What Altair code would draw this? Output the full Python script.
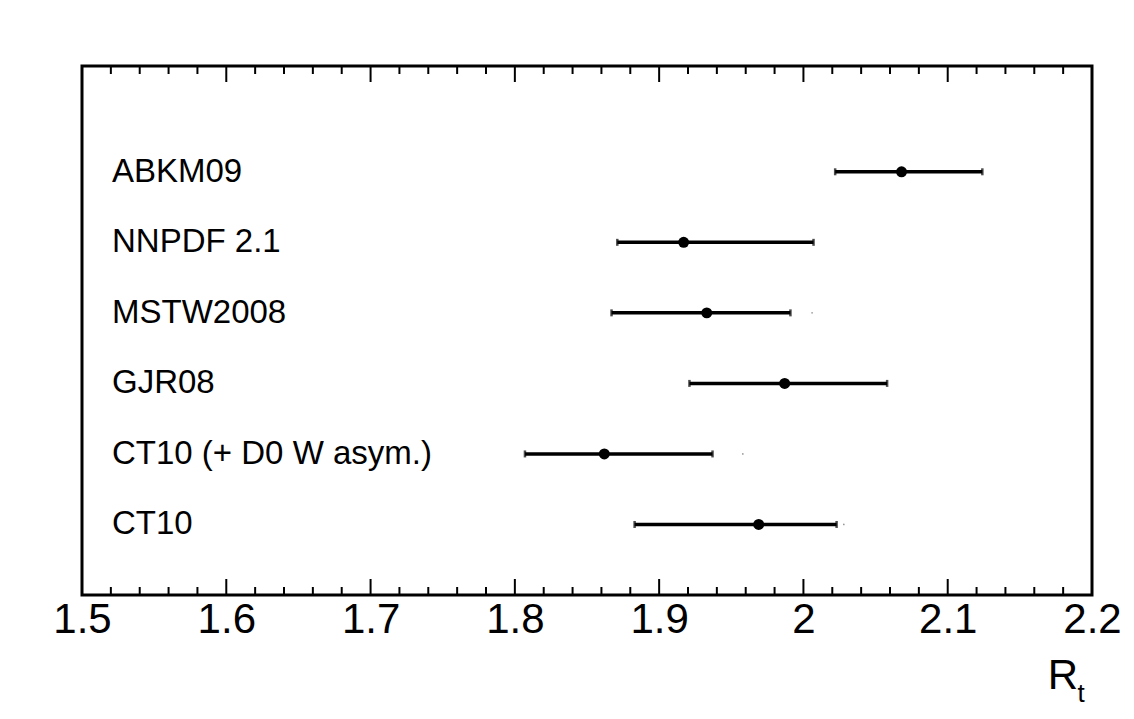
import altair as alt
import pandas as pd

# ---- data ----
pdf_sets = ["ABKM09", "NNPDF 2.1", "MSTW2008", "GJR08", "CT10 (+ D0 W asym.)", "CT10"]
central = [2.068, 1.917, 1.933, 1.987, 1.862, 1.969]
err_lo = [2.022, 1.871, 1.867, 1.921, 1.807, 1.883]
err_hi = [2.124, 2.007, 1.991, 2.058, 1.937, 2.023]
# faint secondary markers visible in the reference (None = not present)
faint = [None, None, 2.006, None, 1.958, 2.028]

tick_labels = [1.5, 1.6, 1.7, 1.8, 1.9, 2.0, 2.1, 2.2]
minor_ticks = [round(m + k * 0.02, 2) for m in tick_labels[:-1] for k in (1, 2, 3, 4)]

n = len(pdf_sets)
df = pd.DataFrame({
    "pdf": pdf_sets,
    "row": [n - i for i in range(n)],
    "val": central,
    "lo": err_lo,
    "hi": err_hi,
})
df_faint = pd.DataFrame({
    "row": [n - i for i in range(n) if faint[i] is not None],
    "f": [v for v in faint if v is not None],
})
df_major = pd.DataFrame({"t": tick_labels})
df_minor = pd.DataFrame({"t": minor_ticks})

W, H = 1010, 529
YMAX = 7.5
FONT = "Liberation Sans"
MAJ = 16 * YMAX / H   # major tick length in y units
MIN = 8 * YMAX / H    # minor tick length in y units

xscale = alt.Scale(domain=[1.5, 2.2], nice=False, zero=False)
yscale = alt.Scale(domain=[0, YMAX], nice=False, zero=False)

xaxis = alt.Axis(
    values=tick_labels, labelExpr="format(datum.value, '~g')",
    domain=False, ticks=False, grid=False, labelFontSize=42,
    labelFont=FONT, labelColor="black", labelPadding=4, title=None,
    labelFlush=False,
)

base = alt.Chart(df)

bars = base.mark_rule(color="black", strokeWidth=3.5).encode(
    x=alt.X("lo:Q", scale=xscale, axis=xaxis),
    x2="hi:Q",
    y=alt.Y("row:Q", scale=yscale, axis=None),
)
cap_lo = base.mark_tick(color="black", orient="vertical", size=7, thickness=2.5).encode(
    x=alt.X("lo:Q", scale=xscale), y=alt.Y("row:Q", scale=yscale)
)
cap_hi = base.mark_tick(color="black", orient="vertical", size=7, thickness=2.5).encode(
    x=alt.X("hi:Q", scale=xscale), y=alt.Y("row:Q", scale=yscale)
)
points = base.mark_point(filled=True, color="black", size=120, opacity=1).encode(
    x=alt.X("val:Q", scale=xscale), y=alt.Y("row:Q", scale=yscale)
)
faint_pts = alt.Chart(df_faint).mark_point(filled=True, color="#999999", size=3, opacity=1).encode(
    x=alt.X("f:Q", scale=xscale), y=alt.Y("row:Q", scale=yscale)
)
labels = base.mark_text(align="left", baseline="middle", font=FONT, fontSize=33, color="black").encode(
    x=alt.value(30), y=alt.Y("row:Q", scale=yscale), text="pdf:N"
)

def tick_layer(data, y0, y1):
    return alt.Chart(data).mark_rule(color="black", strokeWidth=2).encode(
        x=alt.X("t:Q", scale=xscale),
        y=alt.Y(datum=y0, type="quantitative", scale=yscale),
        y2=alt.Y2(datum=y1),
    )

ticks = [
    tick_layer(df_major, 0, MAJ),
    tick_layer(df_minor, 0, MIN),
    tick_layer(df_major, YMAX, YMAX - MAJ),
    tick_layer(df_minor, YMAX, YMAX - MIN),
]

# plot frame
frame = alt.Chart(pd.DataFrame({"k": [0]})).mark_rect(
    filled=False, stroke="black", strokeWidth=3
).encode(x=alt.value(0), x2=alt.value(W), y=alt.value(0), y2=alt.value(H))

title_r = alt.Chart(pd.DataFrame({"s": ["R"]})).mark_text(
    align="center", baseline="middle", font=FONT, fontSize=42, color="black"
).encode(x=alt.value(981), y=alt.value(610), text="s:N")
title_t = alt.Chart(pd.DataFrame({"s": ["t"]})).mark_text(
    align="center", baseline="middle", font=FONT, fontSize=26, color="black"
).encode(x=alt.value(999), y=alt.value(628), text="s:N")

chart = alt.layer(
    frame, bars, cap_lo, cap_hi, points, faint_pts, labels, *ticks, title_r, title_t
).properties(
    width=W, height=H,
    autosize=alt.AutoSizeParams(type="none"),
    padding={"left": 74, "top": 58, "right": 30, "bottom": 112},
).configure(background="white")

chart.save("out.html", embed_options={"renderer": "svg", "actions": False})
